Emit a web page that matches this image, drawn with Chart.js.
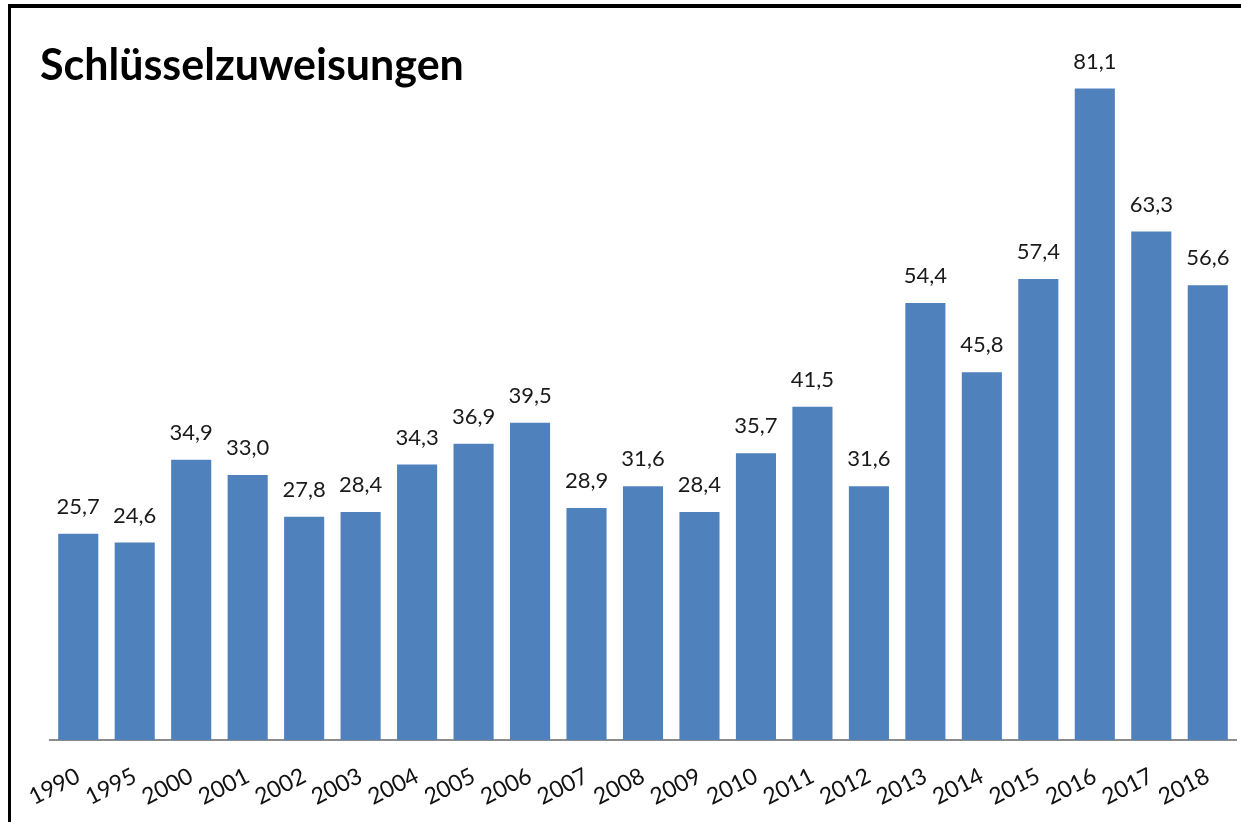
<!DOCTYPE html>
<html lang="de">
<head>
  <meta charset="UTF-8" />
  <title>Schlüsselzuweisungen</title>
  <script src="https://cdn.jsdelivr.net/npm/chart.js"></script>
  <style>
    body { margin: 0; background: #fff; }
    .wrap { position: relative; width: 1241px; height: 822px; overflow: hidden; }
    .frame {
      position: absolute; left: 8px; top: 4px; width: 1300px; height: 900px;
      border-top: 4px solid #000; border-left: 3px solid #000;
    }
    canvas { position: absolute; left: 0; top: 0; }
  </style>
</head>
<body>
  <div class="wrap">
    <div class="frame"></div>
    <canvas id="chart" width="1241" height="831"></canvas>
  </div>

  <script>
    const years = ['1990', '1995', '2000', '2001', '2002', '2003', '2004', '2005', '2006', '2007', '2008',
      '2009', '2010', '2011', '2012', '2013', '2014', '2015', '2016', '2017', '2018'];
    const values = [25.7, 24.6, 34.9, 33.0, 27.8, 28.4, 34.3, 36.9, 39.5, 28.9, 31.6,
      28.4, 35.7, 41.5, 31.6, 54.4, 45.8, 57.4, 81.1, 63.3, 56.6];
    const title = 'Schlüsselzuweisungen';

    // draws the value above each bar and the title
    const labelsPlugin = {
      id: 'labels',
      afterDatasetsDraw(chart) {
        const c = chart.ctx;
        const meta = chart.getDatasetMeta(0);
        c.save();
        c.fillStyle = '#1a1a1a';
        c.font = '22px Lato, "Open Sans", sans-serif';
        c.textAlign = 'center';
        c.textBaseline = 'bottom';
        meta.data.forEach((bar, i) => {
          c.fillText(values[i].toFixed(1).replace('.', ','), bar.x, bar.y - 16);
        });
        c.fillStyle = '#000';
        c.font = 'bold 43px Lato, "Open Sans", sans-serif';
        c.textAlign = 'left';
        c.textBaseline = 'alphabetic';
        c.fillText(title, 40, 80);
        c.restore();
      }
    };

    new Chart(document.getElementById('chart'), {
      type: 'bar',
      data: {
        labels: years,
        datasets: [{
          data: values,
          backgroundColor: '#4f81bd',
          categoryPercentage: 1,
          barPercentage: 0.71
        }]
      },
      options: {
        responsive: false,
        animation: false,
        layout: { padding: { left: 50, right: 5, top: 33, bottom: 6 } },
        plugins: { legend: { display: false }, tooltip: { enabled: false } },
        scales: {
          y: { display: false, min: 0, max: 88 },
          x: {
            grid: { display: false },
            border: { color: '#8c8c8c', width: 2 },
            ticks: {
              color: '#111',
              font: { family: 'Lato, "Open Sans", sans-serif', size: 23 },
              minRotation: 27,
              maxRotation: 27,
              autoSkip: false,
              padding: 14
            }
          }
        }
      },
      plugins: [labelsPlugin]
    });
  </script>
</body>
</html>
